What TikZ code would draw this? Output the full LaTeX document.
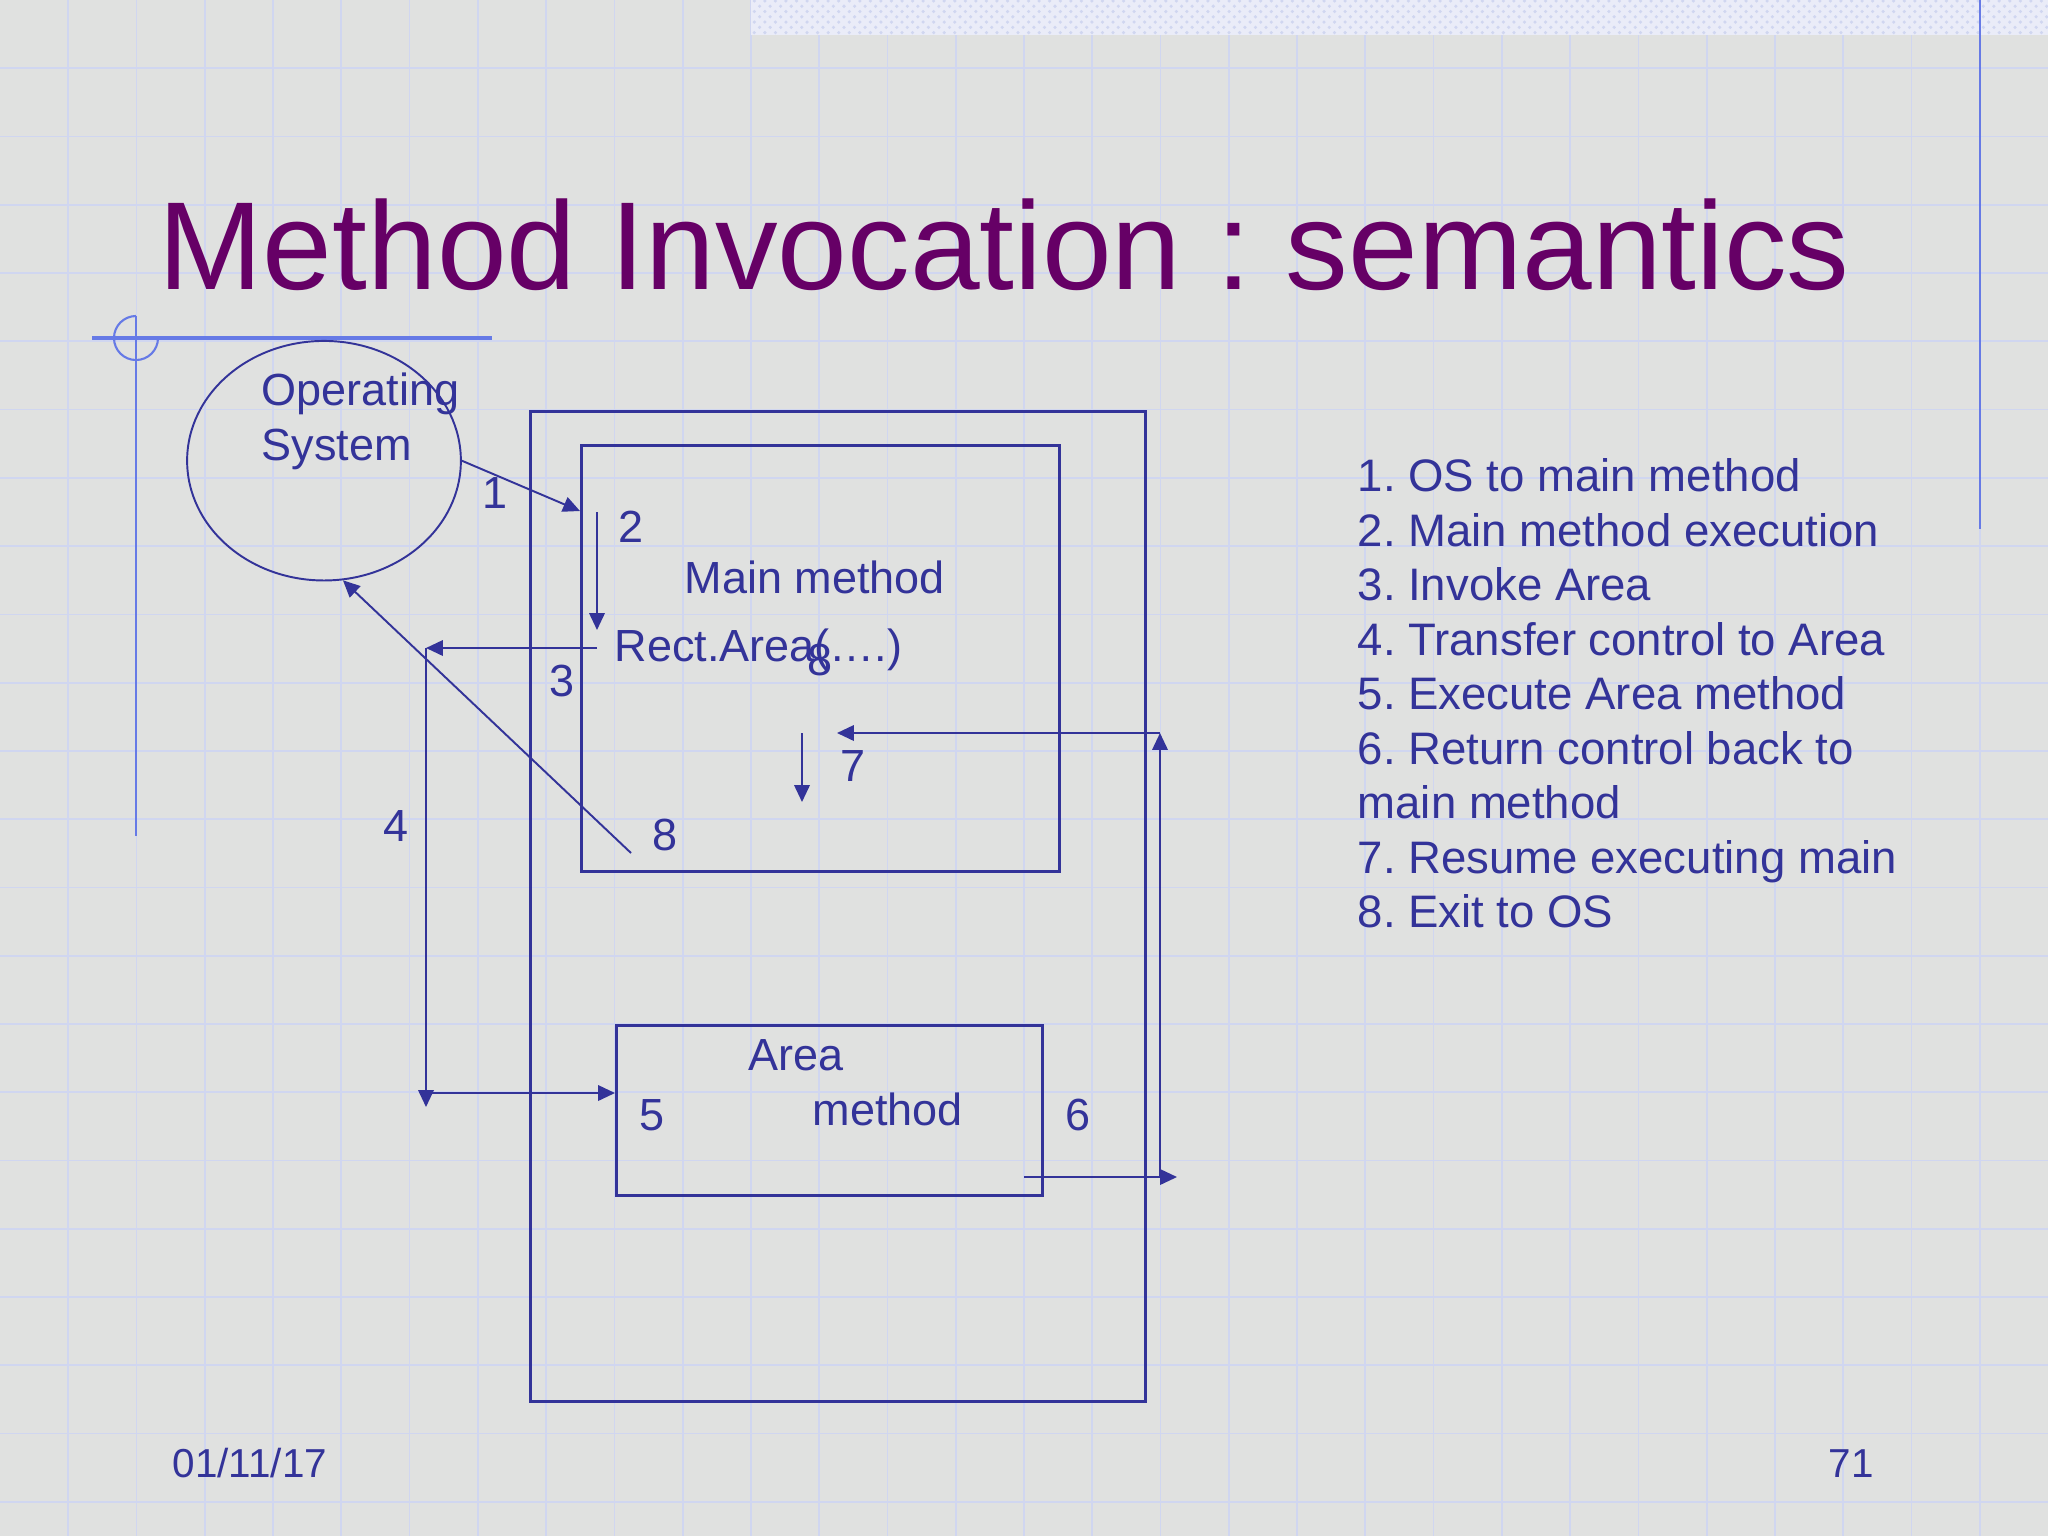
\documentclass[tikz,border=0pt]{standalone}
\usepackage{fontspec}
\setmainfont{Liberation Sans}
\usetikzlibrary{arrows.meta,shapes.geometric,patterns,calc}
\definecolor{bg}{RGB}{224,225,224}
\definecolor{gridc}{RGB}{208,214,240}
\definecolor{navy}{RGB}{51,51,153}
\definecolor{titlec}{RGB}{102,0,102}
\definecolor{decob}{RGB}{102,122,230}
\definecolor{patbg}{RGB}{234,236,248}
\frenchspacing
\begin{document}
\begin{tikzpicture}[x=0.01cm,y=-0.01cm,
  lbl/.style={font=\fontsize{12.8}{15.5}\selectfont, text=navy, inner sep=0pt, anchor=base west},
  lst/.style={font=\fontsize{12.95}{15.5}\selectfont, text=navy, inner sep=0pt, anchor=base west},
  num/.style={font=\fontsize{12.8}{15.5}\selectfont, text=navy, inner sep=0pt, anchor=base},
  boxst/.style={draw=navy, line width=0.85pt, inner sep=0pt, anchor=north west},
  conn/.style={draw=navy, line width=0.55pt},
  arr/.style={conn, -{Triangle[length=4.8pt,width=4.4pt]}},
  foot/.style={font=\fontsize{11.5}{13}\selectfont, text=navy, inner sep=0pt, anchor=base west}]
\useasboundingbox (0,0) rectangle (2048,1536);
% background and grid
\fill[bg] (0,0) rectangle (2048,1536);
\foreach \k in {1,...,29} \draw[gridc, line width=0.5pt] ({\k*68.2667},0) -- ({\k*68.2667},1536);
\foreach \k in {1,...,22} \draw[gridc, line width=0.5pt] (0,{\k*68.2667}) -- (2048,{\k*68.2667});
\fill[patbg] (751,0) rectangle (2048,35);
\fill[pattern=crosshatch dots, pattern color=gridc] (751,0) rectangle (2048,35);
% decorations
\draw[decob, line width=0.7pt] (1980,0) -- (1980,529);
\draw[decob, line width=1pt] (92,338) -- (492,338);
\draw[decob, line width=0.7pt] (136,316) -- (136,836);
\draw[decob, line width=0.6pt] (136,316) arc[start angle=90, end angle=360, radius=0.22cm];
% title
\node[font=\fontsize{35.6}{40}\selectfont, text=titlec, inner sep=0pt, anchor=base west] (title) at (158,289) {Method Invocation : semantics};
% shapes
\node[draw=navy, line width=0.55pt, ellipse, minimum width=2.736cm, minimum height=2.394cm, inner sep=0pt] (os) at (324,460.7) {};
\node[lbl] (os1) at (261,405.4) {Operating};
\node[lbl] (os2) at (261,460.7) {System};
\node[boxst, minimum width=6.15cm, minimum height=9.89cm] (outer) at (529,410) {};
\node[boxst, minimum width=4.78cm, minimum height=4.26cm] (main) at (580,444) {};
\node[boxst, minimum width=4.26cm, minimum height=1.70cm] (area) at (615,1024) {};
\node[lbl] (mainlbl) at (684,593.3) {Main method};
\node[lbl] (rect) at (614,661.7) {Rect.Area(….)};
\node[lbl] (arealbl1) at (748,1070.7) {Area};
\node[lbl] (arealbl2) at (812,1125.7) {method};
% coordinates
\coordinate (a1e) at (580,511);
\coordinate (a2s) at (597,512);
\coordinate (a2e) at (597,630);
\coordinate (a3s) at (597,648);
\coordinate (a3e) at (426,648);
\coordinate (a4e) at (426,1107);
\coordinate (a4j) at (426,1093);
\coordinate (a6s) at (1024,1177);
\coordinate (a6e) at (1177,1177);
\coordinate (a6j) at (1160,1177);
\coordinate (a6t) at (1160,733);
\coordinate (a7e) at (837,733);
\coordinate (a7s) at (802,733);
\coordinate (a7f) at (802,802);
\coordinate (a8s) at (631,853);
% connectors
\draw[arr] (os.east) -- (a1e);
\draw[arr] (a2s) -- (a2e);
\draw[arr] (a3s) -- (a3e);
\draw[arr] (a3e) -- (a4e);
\draw[arr] (a4j) -- (a4j -| area.west);
\draw[arr] (a6s) -- (a6e);
\draw[arr] (a6j) -- (a6t);
\draw[arr] (a6t) -- (a7e);
\draw[arr] (a7s) -- (a7f);
\draw[arr] (a8s) -- (os.-81);
% step numbers
\node[num] (n1) at (495,508) {1};
\node[num] (n2) at (631,542.7) {2};
\node[num] (n3) at (562.5,696.5) {3};
\node[num] (n4) at (395.7,841) {4};
\node[num] (n5) at (652,1130.5) {5};
\node[num] (n6) at (1078,1130.5) {6};
\node[num] (n7) at (852.7,781.5) {7};
\node[num] (n8) at (665,850) {8};
\node[num] (n8b) at (820.5,675.5) {8};
% list
\foreach [count=\i] \t in {1. OS to main method, 2. Main method execution, 3. Invoke Area, 4. Transfer control to Area, 5. Execute Area method, 6. Return control back to, main method, 7. Resume executing main, 8. Exit to OS}
  \node[lst] (li\i) at (1357,{491.7+(\i-1)*54.5}) {\t};
% footer
\node[foot] (date) at (172,1477.7) {01/11/17};
\node[foot] (page) at (1828,1477.7) {71};
\end{tikzpicture}
\end{document}
